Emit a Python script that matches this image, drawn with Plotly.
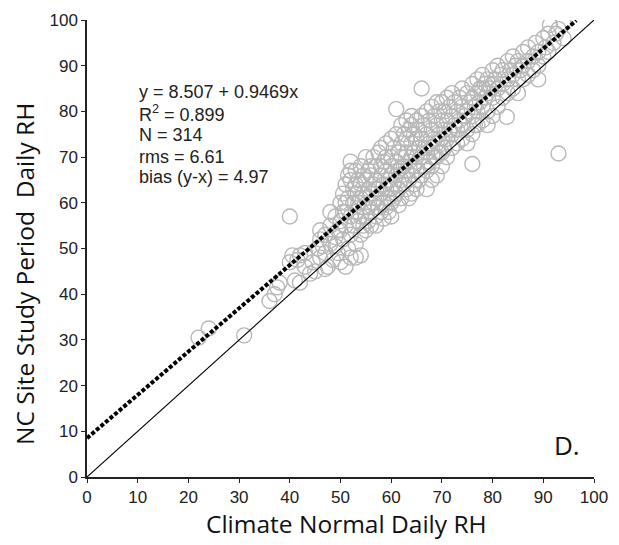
import plotly.graph_objects as go

# Scatter data: (Climate Normal Daily RH, NC Site Study Period Daily RH)
points = [
    # x 20-45
    (22,30.5),(24,32.5),(31,31),(36,38.5),(37,40),(37.5,41.5),(38,42.5),(40,57),(40,47),(40.5,48.5),
    (41,43),(42,42.5),(41.5,47.5),(42,48.5),(43,46),(44,44.5),(44.5,47),(45,45),(45.5,50),(43,49),
    # x 45-50
    (46,48),(46,52),(46.5,50.5),(47,53),(47,49),(47.5,46),(48,51),(48,55),(48.5,47.5),(49,52.5),
    (49,57),(49.5,49),(49.5,54),(50,56),(50,60),(50,47),(48,58),(47,45.5),(46,54),(49,50.5),
    # x 50-55
    (50.5,62),(50.5,52),(51,64),(51,58),(51,46),(51,55),(51.5,66),(51.5,61),(51.5,50),(52,69),
    (52,65),(52,57),(52,53),(52,48),(52.5,63),(52.5,60),(52.5,55),(53,67),(53,62),(53,58),
    (53,51),(53,48),(53.5,65),(53.5,60),(53.5,56),(54,68),(54,64),(54,61),(54,57),(54,53),
    (54,48.5),(54.5,66),(54.5,62),(54.5,59),(54.5,55),(55,70),(55,65),(55,61),(55,57),(55,54),
    (52,67),(53,64),(51,60),(50,54),(50.5,58),
    # x 55-60
    (55.5,63),(55.5,59),(55.5,56),(56,66),(56,62),(56,58),(56,55),(56.5,70),(56.5,64),(56.5,60),
    (57,68),(57,65),(57,61),(57,57),(57,55),(57.5,63),(57.5,59),(57.5,71),(58,72),(58,66),
    (58,62),(58,58),(58.5,69),(58.5,64),(58.5,60),(58.5,56.5),(59,67),(59,63),(59,59),(59,73),
    (59.5,65),(59.5,61),(59.5,58),(60,74),(60,70),(60,66),(60,63),(60,60),(60,57),(56,68),
    (57,63),(58,68),(59,70),(55.5,67),(60,68),
    # x 60-65
    (60.5,72),(60.5,64),(60.5,61),(61,80.5),(61,75),(61,69),(61,66),(61,62),(61.5,71),(61.5,67),
    (61.5,63),(61.5,59.5),(62,77),(62,73),(62,70),(62,65),(62,61),(62.5,75),(62.5,68),(62.5,64),
    (63,78),(63,74),(63,71),(63,67),(63,63),(63.5,76),(63.5,69),(63.5,65),(63.5,61),(64,77),
    (64,73),(64,70),(64,66),(64,62),(64.5,75),(64.5,71),(64.5,68),(64.5,64),(65,78),(65,74),
    (65,70),(65,67),(65,63),(62,67.5),(64,79),
    # x 65-70
    (65.5,76),(65.5,72),(65.5,65),(66,85),(66,79),(66,74),(66,70),(66,66),(66.5,77),(66.5,72),
    (66.5,68),(67,80),(67,75),(67,71),(67,67),(67,63),(67.5,78),(67.5,73),(67.5,69),(68,81),
    (68,76),(68,72),(68,68),(68,65),(68.5,79),(68.5,74),(68.5,70),(69,82),(69,77),(69,73),
    (69,70),(69,66),(69.5,80),(69.5,75),(69.5,71),(70,82),(70,78),(70,74),(70,71),(70,68),
    # x 70-75
    (70.5,80),(70.5,76),(70.5,72),(71,83),(71,78),(71,74),(71,70),(71.5,81),(71.5,76),(72,84),
    (72,79),(72,75),(72,72),(72.5,82),(72.5,77),(73,80),(73,76),(73,73),(73.5,83),(73.5,78),
    (74,85),(74,81),(74,77),(74,74),(74.5,79),(75,84),(75,80),(75,76),(75,73),(76,68.5),
    # x 75-80
    (75.5,82),(76,86),(76,83),(76,79),(76,75),(76.5,81),(77,87),(77,84),(77,80),(77,77),
    (77.5,85),(77.5,82),(78,88),(78,85),(78,81),(78,78),(78.5,86),(78.5,83),(79,87),(79,84),
    (79,80),(79.5,85),(80,89),(80,86),(80,83),(80,79),(76.5,77),(79,77),
    # x 80-85
    (80.5,87),(81,90),(81,85),(81,81),(81.5,88),(82,89),(82,86),(82,83),(82.8,78.8),(83,91),
    (83,87),(83,84),(83.5,89),(84,92),(84,88),(84,85),(84.5,90),(85,91),(85,87),(85,84),
    # x 85-95
    (85.5,89),(86,93),(86,90),(86,87),(87,94),(87,91),(87,88),(88,92),(88,89),(88.5,95),
    (89,93),(89,90),(90,96),(90,92),(90.5,94),(91,97),(91,93),(91.3,98.9),(92,95),(92.5,97),
    (93,70.8),(93,98),(94,99.5),(94,96),(89,87),
]
climate_normal = [p[0] for p in points]
site_rh = [p[1] for p in points]

# Regression fit and 1:1 reference
intercept = 8.507
slope = 0.9469
fit_x = [0, 96.5]
fit_y = [intercept + slope * v for v in fit_x]
one_to_one = [0, 100]

x_title = "Climate Normal Daily RH"
y_title = "NC Site Study Period  Daily RH"
stats_lines = [
    "y = 8.507 + 0.9469x",
    "R<sup>2</sup> = 0.899",
    "N = 314",
    "rms = 6.61",
    "bias (y-x) = 4.97",
]
panel_label = "D."
tick_vals = list(range(0, 101, 10))

fig = go.Figure()
fig.add_trace(go.Scatter(
    x=climate_normal, y=site_rh, mode="markers",
    marker=dict(symbol="circle-open", size=15, color="#b8b8b8", line=dict(width=1.4, color="#b8b8b8")),
    showlegend=False, hoverinfo="skip",
))
fig.add_trace(go.Scatter(
    x=one_to_one, y=one_to_one, mode="lines",
    line=dict(color="black", width=1.1), showlegend=False,
))
fig.add_trace(go.Scatter(
    x=fit_x, y=fit_y, mode="lines",
    line=dict(color="black", width=4, dash="4px,2px"), showlegend=False,
))

axis_common = dict(
    range=[0, 100], tickvals=tick_vals, showgrid=False, zeroline=False,
    showline=True, linecolor="#222", linewidth=1.5, automargin=False,
    ticks="outside", ticklen=4, tickwidth=1.2, tickcolor="#222",
    tickfont=dict(family="Liberation Sans, Arial", size=17, color="#222"),
)
fig.update_xaxes(**axis_common)
fig.update_yaxes(**axis_common)

# The page body has an 8px margin, so the figure is drawn 8px in from the window corner
OFF = 8
W, H = 619 - OFF, 545 - OFF
ml, mr, mt, mb = 87 - OFF, 25, 20 - OFF, 68
pw, ph = W - ml - mr, H - mt - mb


def paper_x(px):
    return (px - OFF - ml) / pw


def paper_y(py):
    return (H - mb - (py - OFF)) / ph


fig.add_annotation(x=paper_x(346), y=paper_y(523),
                   xref="paper", yref="paper", text=x_title, showarrow=False,
                   xanchor="center", yanchor="middle",
                   font=dict(family="Open Sans", size=24.5, color="#111"))
fig.add_annotation(x=paper_x(24), y=paper_y(274),
                   xref="paper", yref="paper", text=y_title, showarrow=False, textangle=-90,
                   xanchor="center", yanchor="middle",
                   font=dict(family="Open Sans", size=24.5, color="#111"))

line_y = [84.2, 79.6, 74.8, 70.0, 65.6]
for txt, yy in zip(stats_lines, line_y):
    fig.add_annotation(x=9.9, y=yy, xref="x", yref="y", text=txt, showarrow=False,
                       xanchor="left", yanchor="middle",
                       font=dict(family="Liberation Sans, Arial", size=18, color="#222"))
fig.add_annotation(x=94.7, y=6.9, xref="x", yref="y", text=panel_label, showarrow=False,
                   xanchor="center", yanchor="middle",
                   font=dict(family="Open Sans", size=26, color="#111"))

fig.update_layout(
    width=W, height=H,
    margin=dict(l=ml, r=mr, t=mt, b=mb),
    paper_bgcolor="white", plot_bgcolor="white",
)
fig.write_html("out.html")
